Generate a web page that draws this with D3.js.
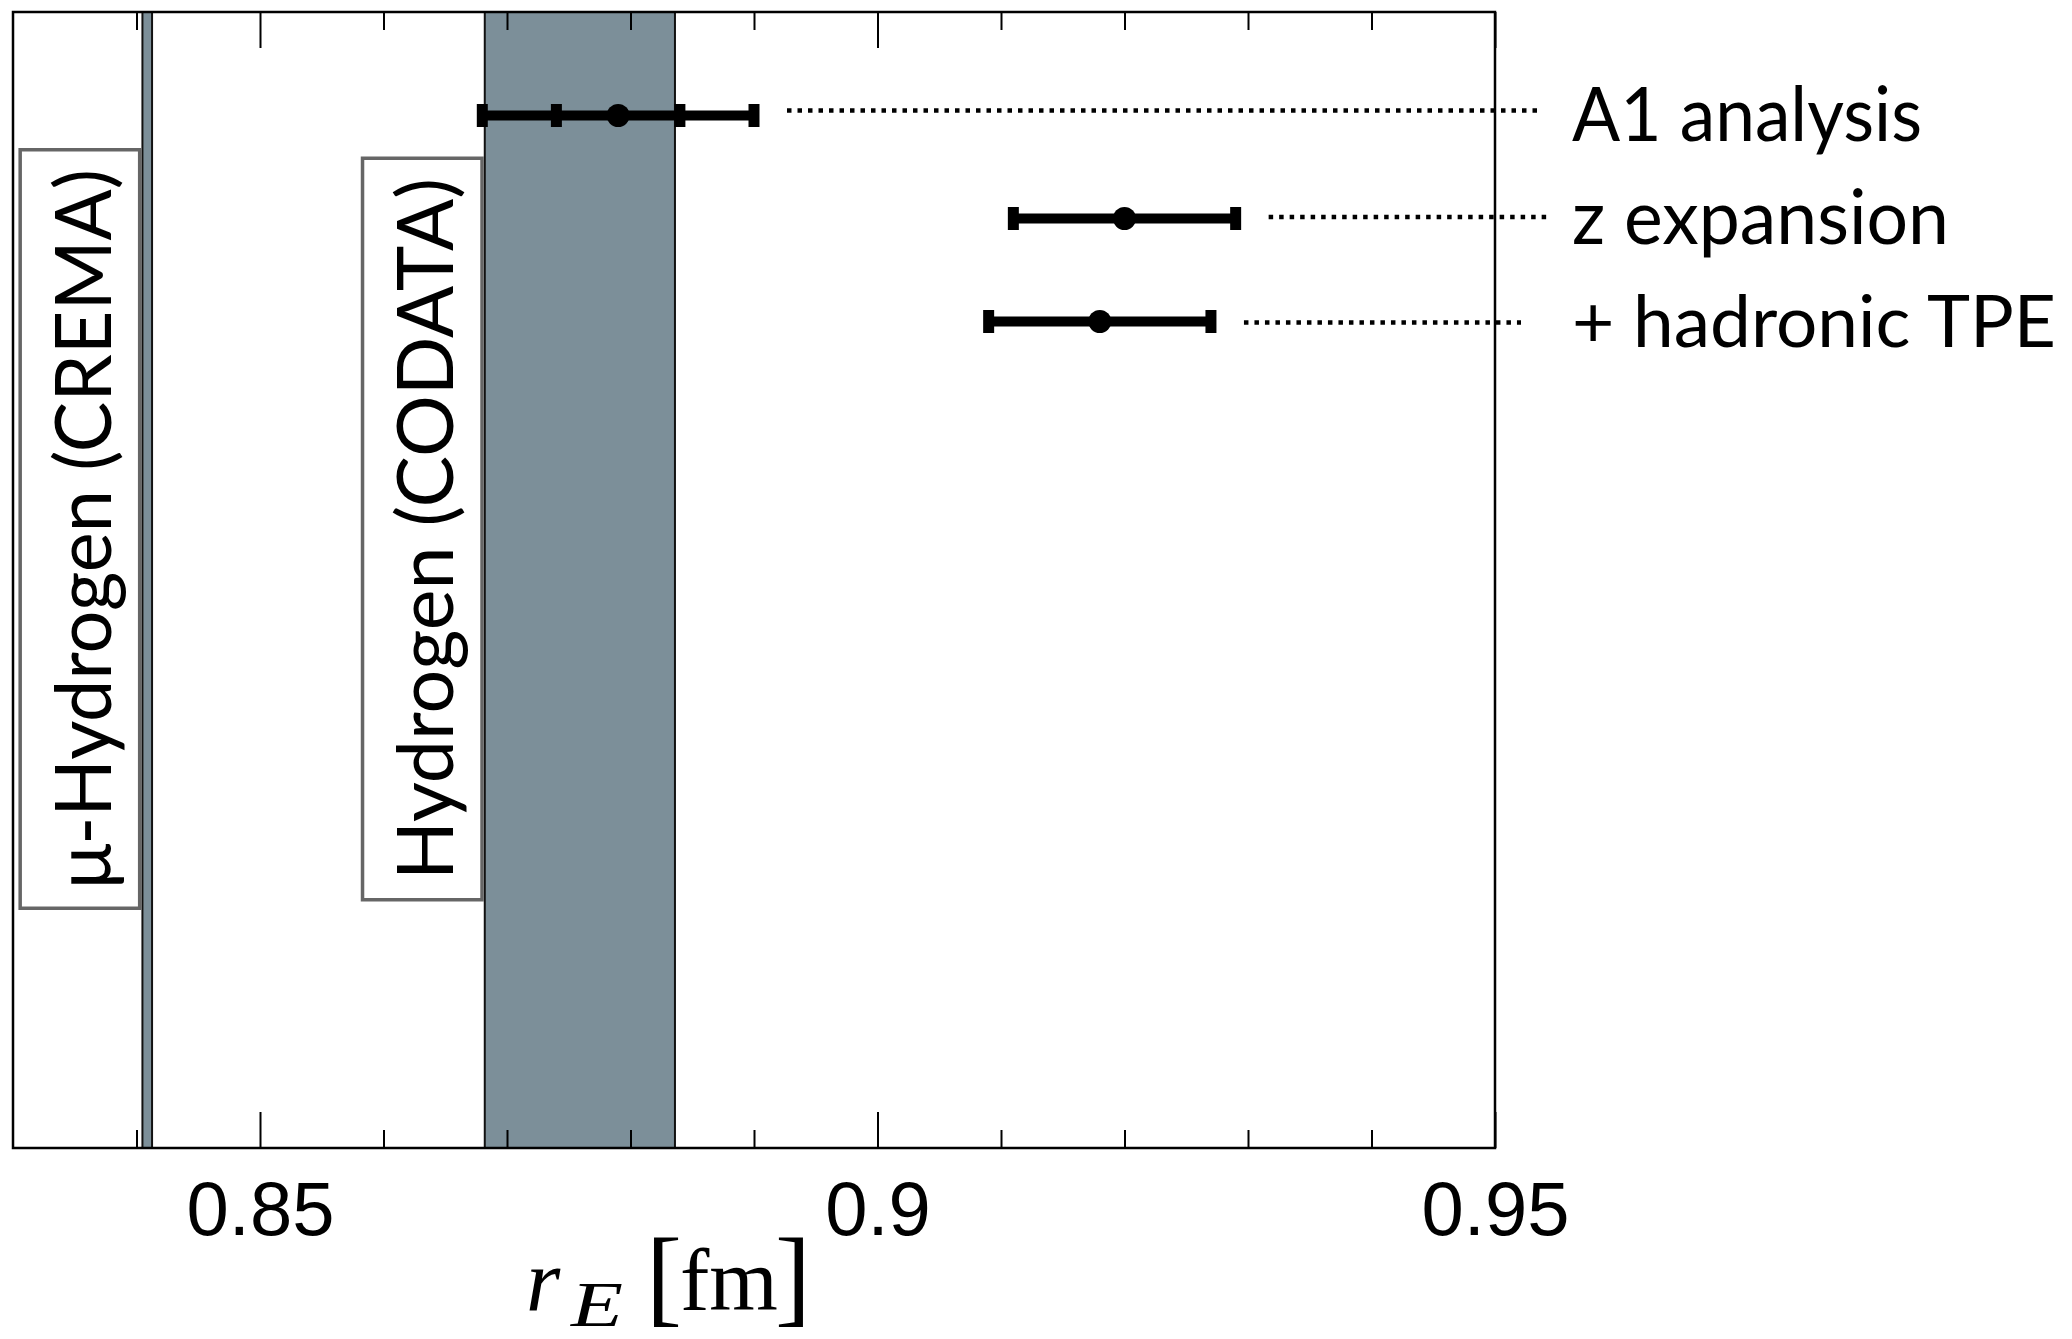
<!DOCTYPE html>
<html>
<head>
<meta charset="utf-8">
<script src="https://cdn.jsdelivr.net/npm/d3@7"></script>
<style>
  html, body { margin: 0; padding: 0; background: #fff; }
  svg { display: block; }
</style>
</head>
<body>
<svg id="chart" width="2072" height="1339"></svg>
<script>
// ---- data ----
const categories = ["A1 analysis", "z expansion", "+ hadronic TPE"];
const central    = [0.879, 0.920, 0.918];
const innerLo    = [0.874, null, null];
const innerHi    = [0.884, null, null];
const outerLo    = [0.868, 0.911, 0.909];
const outerHi    = [0.890, 0.929, 0.927];

const bandNames  = ["μ-Hydrogen (CREMA)", "Hydrogen (CODATA)"];
const bandCenter = [0.84087, 0.8759];
const bandHalf   = [0.00039, 0.0077];

const xDomain    = [0.83, 0.95];
const majorTicks = [0.85, 0.90, 0.95];
const tickLabels = ["0.85", "0.9", "0.95"];
const minorTicks = [0.84, 0.86, 0.87, 0.88, 0.89, 0.91, 0.92, 0.93, 0.94];

// ---- layout ----
const L = 13, R = 1495, T = 12, B = 1148;
const svg = d3.select("#chart");
const x = d3.scaleLinear().domain(xDomain).range([L, R]);
const y = d3.scalePoint().domain(categories).range([115.5, 321.5]);

const bandColor = "#7c8f99";
const sansFont = "Lato, 'Open Sans', sans-serif";
const serifFont = "'Liberation Serif', 'DejaVu Serif', serif";

// bands
const bands = bandNames.map((n, i) => ({name: n, lo: bandCenter[i] - bandHalf[i], hi: bandCenter[i] + bandHalf[i]}));
const bg = svg.append("g");
bg.selectAll("rect.band").data(bands).join("rect")
  .attr("class", "band")
  .attr("x", d => x(d.lo)).attr("width", d => x(d.hi) - x(d.lo))
  .attr("y", T).attr("height", B - T)
  .attr("fill", bandColor);
bands.forEach(d => {
  [d.lo, d.hi].forEach(v => {
    bg.append("line").attr("x1", x(v)).attr("x2", x(v)).attr("y1", T).attr("y2", B)
      .attr("stroke", "#111").attr("stroke-width", 2);
  });
});

// label boxes with rotated text
const boxW = 123;
const boxH = [762, 745];
const textLen = [720, 702];
const midY = 529;
bands.forEach((d, i) => {
  const xr = x(d.lo) - 1;
  svg.append("rect")
    .attr("x", xr - boxW + 1.75).attr("y", midY - boxH[i] / 2 + 1.75)
    .attr("width", boxW - 3.5).attr("height", boxH[i] - 3.5)
    .attr("fill", "#fff").attr("stroke", "#666").attr("stroke-width", 3.5);
  const bx = x(d.lo) - 31.5;
  svg.append("text")
    .attr("transform", `translate(${bx},${midY}) rotate(-90)`)
    .attr("text-anchor", "middle")
    .attr("font-family", sansFont)
    .attr("font-size", 77)
    .attr("textLength", textLen[i])
    .attr("lengthAdjust", "spacingAndGlyphs")
    .attr("fill", "#000")
    .text(d.name);
});

// frame
svg.append("rect").attr("x", L).attr("y", T).attr("width", R - L).attr("height", B - T)
  .attr("fill", "none").attr("stroke", "#000").attr("stroke-width", 2.5);

// ticks via d3 axes
function tickAxis(axisFn, vals, len, yPos) {
  const g = svg.append("g").attr("transform", `translate(0,${yPos})`)
    .call(axisFn(x).tickValues(vals).tickSizeInner(len).tickSizeOuter(0).tickFormat(""));
  g.select(".domain").remove();
  g.selectAll(".tick line").attr("stroke", "#000").attr("stroke-width", 2);
  return g;
}
tickAxis(d3.axisBottom, majorTicks, -36, B);
tickAxis(d3.axisBottom, minorTicks, -18, B);
tickAxis(d3.axisTop, majorTicks, -36, T);
tickAxis(d3.axisTop, minorTicks, -18, T);

// tick labels
const lab = svg.append("g").attr("transform", `translate(0,${B})`)
  .call(d3.axisBottom(x).tickValues(majorTicks).tickSize(0)
        .tickFormat((d, i) => tickLabels[i]));
lab.select(".domain").remove();
lab.selectAll(".tick text")
  .attr("y", 87).attr("dy", 0)
  .attr("font-family", "'Liberation Sans', Arial, sans-serif")
  .attr("font-size", 76).attr("fill", "#000");

// axis title r_E [fm]
const title = svg.append("text")
  .attr("font-family", serifFont).attr("fill", "#000");
title.append("tspan").attr("x", 526).attr("y", 1310)
  .attr("font-style", "italic").attr("font-size", 88).text("r");
title.append("tspan").attr("x", 571).attr("y", 1326)
  .attr("font-style", "italic").attr("font-size", 64)
  .attr("textLength", 52).attr("lengthAdjust", "spacingAndGlyphs").text("E");
title.append("tspan").attr("x", 646).attr("y", 1313)
  .attr("font-size", 108).text("[");
title.append("tspan").attr("x", 680).attr("y", 1310)
  .attr("font-size", 88).attr("textLength", 98).attr("lengthAdjust", "spacingAndGlyphs").text("fm");
title.append("tspan").attr("x", 775).attr("y", 1313)
  .attr("font-size", 108).text("]");

// error bars
const pts = categories.map((c, i) => ({c, v: central[i], ilo: innerLo[i], ihi: innerHi[i], lo: outerLo[i], hi: outerHi[i]}));
const eb = svg.append("g");
pts.forEach(p => {
  const yy = y(p.c);
  eb.append("line").attr("x1", x(p.lo)).attr("x2", x(p.hi)).attr("y1", yy).attr("y2", yy)
    .attr("stroke", "#000").attr("stroke-width", 10);
  const caps = [p.lo, p.hi];
  if (p.ilo != null) caps.push(p.ilo, p.ihi);
  caps.forEach(v => {
    eb.append("line").attr("x1", x(v)).attr("x2", x(v)).attr("y1", yy - 11.5).attr("y2", yy + 11.5)
      .attr("stroke", "#000").attr("stroke-width", 11);
  });
  eb.append("circle").attr("cx", x(p.v)).attr("cy", yy).attr("r", 11.5).attr("fill", "#000");
});

// leader lines and labels
const leaderEnd = [1540, 1547, 1521];
const leaderDy = [-5, -1.5, 1];
const textW = [350, 377, 484];
const textFs = [76, 76, 72];
pts.forEach((p, i) => {
  const yy = y(p.c);
  svg.append("line")
    .attr("x1", x(p.hi) + 33).attr("x2", leaderEnd[i])
    .attr("y1", yy + leaderDy[i]).attr("y2", yy + leaderDy[i])
    .attr("stroke", "#000").attr("stroke-width", 4.5)
    .attr("stroke-dasharray", "4.5,6");
  svg.append("text")
    .attr("x", 1572).attr("y", yy + 25)
    .attr("font-family", sansFont).attr("font-size", textFs[i])
    .attr("textLength", textW[i]).attr("lengthAdjust", "spacingAndGlyphs")
    .attr("fill", "#000")
    .text(p.c);
});
</script>
</body>
</html>
